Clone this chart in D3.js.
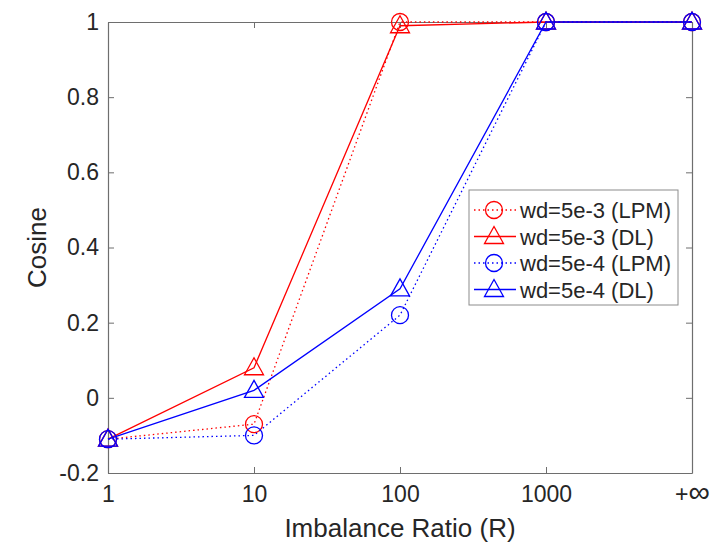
<!DOCTYPE html>
<html>
<head>
<meta charset="utf-8">
<title>Cosine vs Imbalance Ratio</title>
<script src="https://d3js.org/d3.v7.min.js"></script>
<style>
  body { margin: 0; background: #fff; }
  text { font-family: "Liberation Sans", Arial, sans-serif; fill: #262626; }
</style>
</head>
<body>
<div id="chart"></div>
<script>
// categories on the x axis
var ratios = ["1", "10", "100", "1000", "+\u221e"];
var yTicks = [-0.2, 0, 0.2, 0.4, 0.6, 0.8, 1];

// series values
var lpm5e3 = [-0.11, -0.07, 1.0, 1.0, 1.0];
var dl5e3  = [-0.11, 0.08, 0.99, 1.0, 1.0];
var lpm5e4 = [-0.11, -0.10, 0.22, 1.0, 1.0];
var dl5e4  = [-0.11, 0.02, 0.29, 1.0, 1.0];

var seriesNames = ["wd=5e-3 (LPM)", "wd=5e-3 (DL)", "wd=5e-4 (LPM)", "wd=5e-4 (DL)"];

var series = [
  {name: seriesNames[0], values: lpm5e3, color: "#ff0000", dotted: true,  marker: "circle"},
  {name: seriesNames[1], values: dl5e3,  color: "#ff0000", dotted: false, marker: "triangle"},
  {name: seriesNames[2], values: lpm5e4, color: "#0000ff", dotted: true,  marker: "circle"},
  {name: seriesNames[3], values: dl5e4,  color: "#0000ff", dotted: false, marker: "triangle"}
];

var width = 711, height = 543;
var margin = {top: 22, right: 19, bottom: 70, left: 108};

var svg = d3.select("#chart").append("svg")
  .attr("width", width)
  .attr("height", height);

var x = d3.scalePoint()
  .domain(ratios)
  .range([margin.left, width - margin.right]);

var y = d3.scaleLinear()
  .domain([-0.2, 1])
  .range([height - margin.bottom, margin.top]);

var axisColor = "#6e6e6e";
var tickLen = 6;

// axes
var xAxis = svg.append("g")
  .attr("transform", "translate(0," + (height - margin.bottom) + ")")
  .call(d3.axisBottom(x).tickSizeInner(-tickLen).tickSizeOuter(0).tickPadding(13));
var yAxis = svg.append("g")
  .attr("transform", "translate(" + margin.left + ",0)")
  .call(d3.axisLeft(y).tickValues(yTicks)
    .tickFormat(function(d) { return String(d); })
    .tickSizeInner(-tickLen).tickSizeOuter(0).tickPadding(9));
// box top/right with inward ticks
svg.append("g")
  .attr("transform", "translate(0," + margin.top + ")")
  .call(d3.axisTop(x).tickSizeInner(-tickLen).tickSizeOuter(0).tickFormat(""));
svg.append("g")
  .attr("transform", "translate(" + (width - margin.right) + ",0)")
  .call(d3.axisRight(y).tickValues(yTicks).tickSizeInner(-tickLen).tickSizeOuter(0).tickFormat(""));

svg.selectAll(".domain").attr("stroke", axisColor).attr("stroke-width", 1.2);
svg.selectAll(".tick line").attr("stroke", axisColor);
svg.selectAll(".tick text").style("font-size", "23px").attr("fill", "#262626");

// bigger infinity glyph, as in the original
xAxis.selectAll(".tick text")
  .filter(function(d) { return d === ratios[ratios.length - 1]; })
  .text("+")
  .append("tspan").style("font-size", "30px").text("\u221e");

// axis labels
svg.append("text")
  .attr("x", (margin.left + width - margin.right) / 2)
  .attr("y", 537)
  .attr("text-anchor", "middle")
  .style("font-size", "26px")
  .text("Imbalance Ratio (R)");

svg.append("text")
  .attr("transform", "translate(46," + ((margin.top + height - margin.bottom) / 2) + ") rotate(-90)")
  .attr("text-anchor", "middle")
  .style("font-size", "26px")
  .text("Cosine");

var line = d3.line()
  .x(function(d, i) { return x(ratios[i]); })
  .y(function(d) { return y(d); });

function drawMarker(g, type, color) {
  if (type === "circle") {
    g.append("circle").attr("r", 8.5)
      .attr("fill", "none").attr("stroke", color).attr("stroke-width", 1.3);
  } else {
    g.append("path").attr("d", "M0,-10L9.5,7L-9.5,7Z")
      .attr("fill", "none").attr("stroke", color).attr("stroke-width", 1.3);
  }
}

series.forEach(function(s) {
  var g = svg.append("g");
  g.append("path")
    .datum(s.values)
    .attr("d", line)
    .attr("fill", "none")
    .attr("stroke", s.color)
    .attr("stroke-width", 1.3)
    .attr("stroke-dasharray", s.dotted ? "1.5,3" : null);
  s.values.forEach(function(v, i) {
    var m = g.append("g").attr("transform", "translate(" + x(ratios[i]) + "," + y(v) + ")");
    drawMarker(m, s.marker, s.color);
  });
});

// legend
var legend = svg.append("g").attr("transform", "translate(469,190)");
legend.append("rect")
  .attr("width", 209).attr("height", 115)
  .attr("fill", "#fff").attr("stroke", "#8c8c8c").attr("stroke-width", 1);

series.forEach(function(s, i) {
  var row = legend.append("g").attr("transform", "translate(0," + (20 + i * 26.5) + ")");
  row.append("line")
    .attr("x1", 5).attr("x2", 47)
    .attr("stroke", s.color).attr("stroke-width", 1.3)
    .attr("stroke-dasharray", s.dotted ? "1.5,3" : null);
  var m = row.append("g").attr("transform", "translate(25,0)");
  drawMarker(m, s.marker, s.color);
  row.append("text")
    .attr("x", 51).attr("y", 8)
    .style("font-size", "22px")
    .text(s.name);
});
</script>
</body>
</html>
